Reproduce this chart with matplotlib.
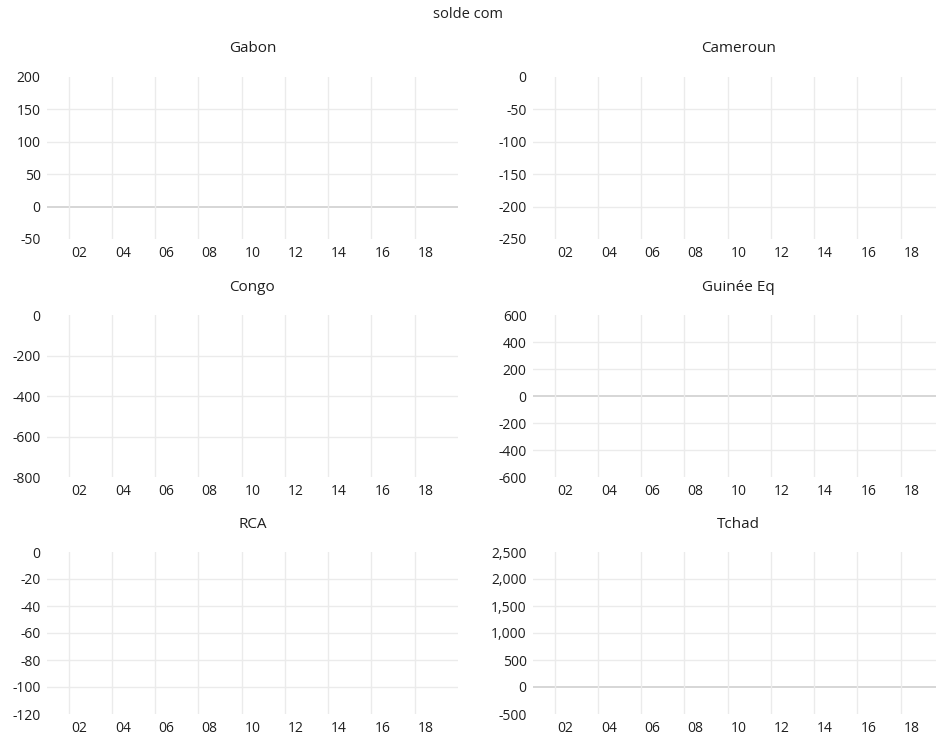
import numpy as np
import matplotlib.pyplot as plt
from matplotlib.ticker import FuncFormatter

plt.rcParams['font.family'] = ['Open Sans', 'DejaVu Sans']
plt.rcParams['axes.unicode_minus'] = False

# Years on the category axis (2001 - 2019), labelled every other year
years = list(range(2001, 2020))
label_years = list(range(2002, 2019, 2))

countries = ["Gabon", "Cameroun", "Congo", "Guinée Eq", "RCA", "Tchad"]
y_min = [-50, -250, -800, -600, -120, -500]
y_max = [200, 0, 0, 600, 0, 2500]
y_step = [50, 50, 200, 200, 20, 500]

# no values are drawn in the reference chart: the series are empty
solde_gabon = []
solde_cameroun = []
solde_congo = []
solde_guinee = []
solde_rca = []
solde_tchad = []
series = [solde_gabon, solde_cameroun, solde_congo, solde_guinee, solde_rca, solde_tchad]

W, H = 937, 737
fig = plt.figure(figsize=(W / 100, H / 100), dpi=100)

text_col = '#1f1f1f'
grid_col = '#ebebeb'
zero_col = '#d0d0d0'

# panel boxes in pixels (left, top, right, bottom)
col_x = [(47, 458), (533, 944)]
row_y = [(77, 239), (315, 477), (552, 714)]

fig.text(0.5, 1 - 15 / H, "solde com", ha='center', va='center',
         fontsize=10.5, color=text_col)

for i, name in enumerate(countries):
    r, c = divmod(i, 2)
    x0, x1 = col_x[c]
    t, b = row_y[r]
    ax = fig.add_axes([x0 / W, 1 - b / H, (x1 - x0) / W, (b - t) / H])

    vals = series[i]
    ax.plot(years[:len(vals)], vals, color='#4472c4', lw=1.5)

    ax.set_xlim(years[0] - 0.5, years[-1] + 0.5)
    ax.set_ylim(y_min[i], y_max[i])

    yt = np.arange(y_min[i], y_max[i] + y_step[i] / 2, y_step[i])
    ax.set_yticks(yt)
    ax.yaxis.set_major_formatter(FuncFormatter(lambda v, p: f"{v:,.0f}"))
    ax.set_xticks(label_years)
    ax.set_xticklabels([f"{y % 100:02d}" for y in label_years])
    ax.set_xticks([y - 0.5 for y in label_years], minor=True)

    ax.tick_params(axis='both', which='both', length=0, labelsize=10,
                   labelcolor=text_col)
    ax.tick_params(axis='y', pad=4.5)
    ax.tick_params(axis='x', pad=5)

    # interior horizontal gridlines, zero line a bit darker
    for v in yt[1:-1]:
        ax.axhline(v, color=zero_col if v == 0 else grid_col,
                   lw=1.2 if v == 0 else 1.0, zorder=0)
    ax.grid(which='minor', axis='x', color=grid_col, lw=1.0, zorder=0)

    for s in ax.spines.values():
        s.set_visible(False)

    ax.text(0.5, 1 + 28 / (b - t), name, transform=ax.transAxes,
            ha='center', va='center', fontsize=11, color=text_col)

fig.savefig("out.png", dpi=100)
